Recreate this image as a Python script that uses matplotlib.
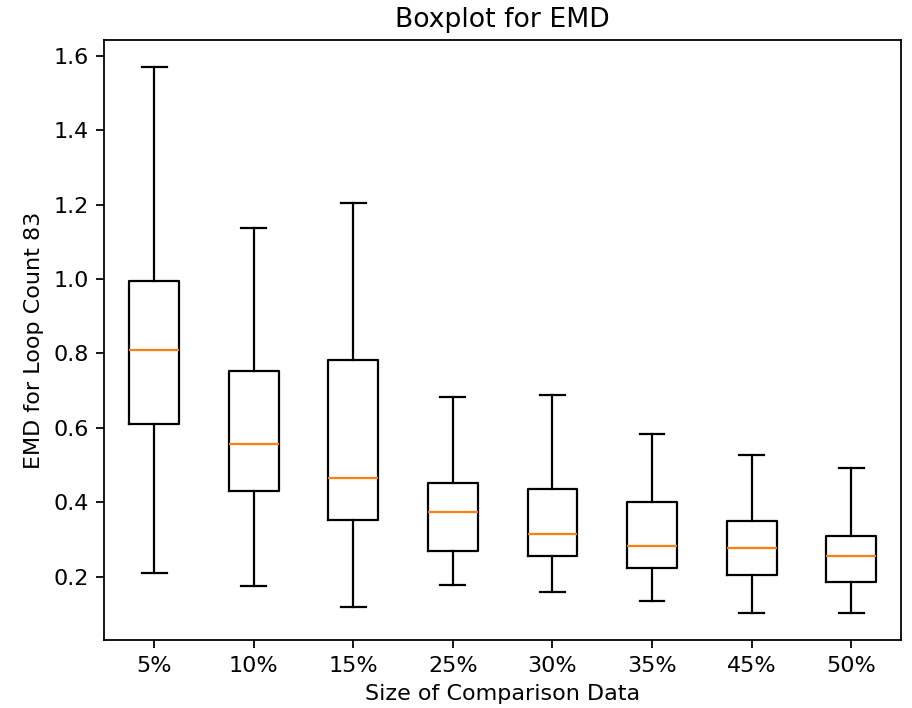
import matplotlib
matplotlib.use("Agg")
import matplotlib.pyplot as plt

categories = ["5%", "10%", "15%", "25%", "30%", "35%", "45%", "50%"]
whislo = [0.209, 0.176, 0.118, 0.177, 0.159, 0.135, 0.103, 0.103]
q1 = [0.611, 0.431, 0.351, 0.269, 0.255, 0.223, 0.204, 0.185]
med = [0.808, 0.557, 0.465, 0.374, 0.314, 0.282, 0.277, 0.255]
q3 = [0.995, 0.753, 0.781, 0.451, 0.436, 0.400, 0.350, 0.309]
whishi = [1.569, 1.137, 1.203, 0.684, 0.688, 0.584, 0.528, 0.492]

stats = []
for i, lab in enumerate(categories):
    stats.append(dict(label=lab, whislo=whislo[i], q1=q1[i], med=med[i],
                      q3=q3[i], whishi=whishi[i], fliers=[]))

dpi = 160
fig = plt.figure(figsize=(912 / dpi, 708 / dpi), dpi=dpi)
ax = fig.add_axes([104.3 / 912, 1 - 640 / 708, (901 - 104.3) / 912, 600 / 708])
ax.bxp(stats, showfliers=False)
ax.set_title("Boxplot for EMD")
ax.set_xlabel("Size of Comparison Data")
ax.set_ylabel("EMD for Loop Count 83")
fig.savefig("out.png", dpi=dpi)
